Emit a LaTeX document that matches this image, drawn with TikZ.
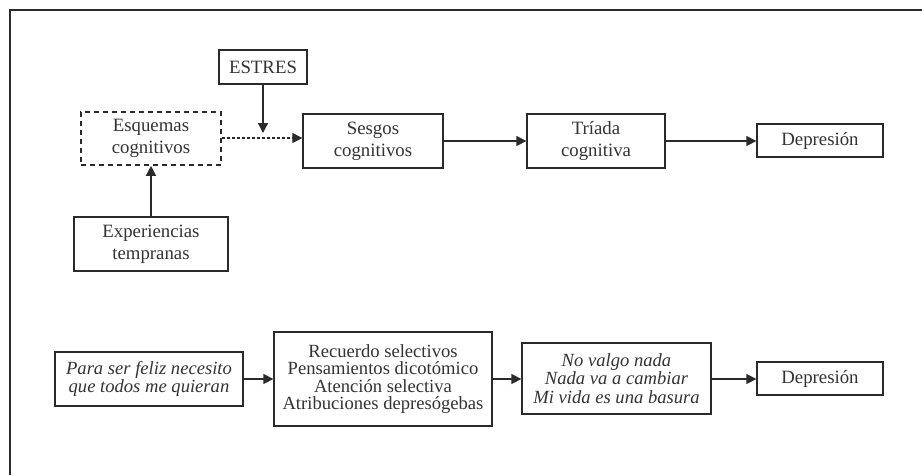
\documentclass[tikz,border=0pt]{standalone}
\usepackage{fontspec}
\setmainfont{Liberation Serif}
\usetikzlibrary{arrows.meta}
\definecolor{ink}{HTML}{2A2A2A}
\definecolor{txt}{HTML}{333333}
\tikzset{
  box/.style={draw=ink, line width=1.3pt, align=center, inner sep=1pt, text=txt,
    font=\fontsize{18.8}{21.7}\selectfont},
  smallbox/.style={box, font=\fontsize{18.6}{17.6}\selectfont},
  itbox/.style={box, font=\fontsize{18.6}{18.3}\selectfont\itshape},
  arr/.style={draw=ink, line width=1.3pt, -{Triangle[length=10pt,width=10pt]}},
  dasharr/.style={draw=ink, line width=1.2pt, dash pattern=on 3pt off 2pt, -{Triangle[length=10pt,width=10pt]}},
}
\begin{document}
\begin{tikzpicture}[x=1pt,y=-1pt]
\useasboundingbox (0,0) rectangle (922,475);
\fill[white] (0,0) rectangle (922,475);
\draw[ink, line width=1.3pt] (10,475) -- (10,10) -- (922,10);

\node[box, minimum width=88pt, minimum height=34pt] (estres) at (263,67) {ESTRES};
\node[box, dash pattern=on 5pt off 4pt, line width=1.6pt, minimum width=140pt, minimum height=53pt] (esq) at (151,138.5) {Esquemas\\cognitivos};
\node[box, minimum width=140pt, minimum height=54pt] (sesgos) at (373,141) {Sesgos\\cognitivos};
\node[box, minimum width=154pt, minimum height=54pt] (exp) at (151,244) {Experiencias\\tempranas};
\node[box, minimum width=138pt, minimum height=54pt] (triada) at (596,141) {Tríada\\cognitiva};
\node[box, minimum width=126pt, minimum height=33pt] (dep1) at (820,140.5) {Depresión};

\coordinate (stressend) at (263,133);
\draw[arr] (estres.south) -- (stressend);
\draw[dasharr] (esq.east |- 0,138) -- (sesgos.west |- 0,138);
\draw[arr] (exp.north) -- (esq.south);
\draw[arr] (sesgos.east |- 0,141) -- (triada.west |- 0,141);
\draw[arr] (triada.east |- 0,141) -- (dep1.west |- 0,141);

\node[itbox, minimum width=188pt, minimum height=54pt] (para) at (149,379) {Para ser feliz necesito\\que todos me quieran};
\node[smallbox, minimum width=218pt, minimum height=94pt] (rec) at (383,379) {Recuerdo selectivos\\Pensamientos dicotómico\\Atención selectiva\\Atribuciones depresógebas};
\node[itbox, minimum width=189pt, minimum height=71pt] (nov) at (616.5,378.5) {No valgo nada\\Nada va a cambiar\\Mi vida es una basura};
\node[box, minimum width=126pt, minimum height=33pt] (dep2) at (820,378.5) {Depresión};

\draw[arr] (para.east |- 0,379) -- (rec.west |- 0,379);
\draw[arr] (rec.east |- 0,379) -- (nov.west |- 0,379);
\draw[arr] (nov.east |- 0,379) -- (dep2.west |- 0,379);
\end{tikzpicture}
\end{document}
